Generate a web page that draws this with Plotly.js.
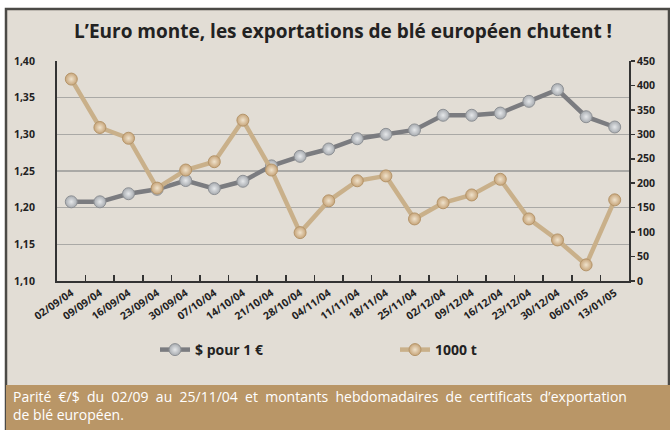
<!DOCTYPE html>
<html>
<head>
<meta charset="utf-8">
<script src="https://cdn.plot.ly/plotly-3.0.1.min.js"></script>
<style>
html,body{margin:0;padding:0;background:#fff;}
#chart{width:670px;height:430px;}
</style>
</head>
<body>
<div id="chart"></div>
<script>
const dates = ["02/09/04","09/09/04","16/09/04","23/09/04","30/09/04","07/10/04","14/10/04","21/10/04","28/10/04","04/11/04","11/11/04","18/11/04","25/11/04","02/12/04","09/12/04","16/12/04","23/12/04","30/12/04","06/01/05","13/01/05"];
const dollarPerEuro = [1.208,1.208,1.219,1.225,1.237,1.226,1.236,1.257,1.270,1.280,1.294,1.300,1.306,1.326,1.326,1.329,1.345,1.361,1.324,1.310];
const exportsKt = [413,314,292,190,227,244,329,227,99,164,205,215,127,160,176,208,127,84,33,166];
const leftTicks = [1.10,1.15,1.20,1.25,1.30,1.35,1.40];
const rightTicks = [0,50,100,150,200,250,300,350,400,450];
const captionLine1 = ["Parité","€/$","du","02/09","au","25/11/04","et","montants","hebdomadaires","de","certificats","d’exportation"];
const captionLine2 = "de blé européen.";

const L=57, R=629, T=61, B=281, W=670, H=430;
const pw=R-L, ph=B-T;
const px = x => (x-L)/pw;
const py = y => (B-y)/ph;

const font = "'Open Sans', 'DejaVu Sans', sans-serif";

const traces = [
  {
    x: dates, y: dollarPerEuro, name: "$ pour 1 €", type: "scatter", mode: "lines+markers",
    yaxis: "y", legend: "legend",
    line: {color: "#7b7c80", width: 4.5},
    marker: {size: 12, color: "#a7abb0", line: {color: "#8d9094", width: 1},
             gradient: {type: "radial", color: "#e6e8ea"}}
  },
  {
    x: dates, y: exportsKt, name: "1000 t", type: "scatter", mode: "lines+markers",
    yaxis: "y2", legend: "legend2",
    line: {color: "#c9b08a", width: 4.5},
    marker: {size: 12, color: "#c7a57a", line: {color: "#b5956a", width: 1},
             gradient: {type: "radial", color: "#efe2cc"}}
  }
];

const layout = {
  width: W, height: H,
  margin: {l: L, r: W-R, t: T, b: H-B, pad: 0},
  paper_bgcolor: "#ffffff",
  plot_bgcolor: "rgba(0,0,0,0)",
  separators: ", ",
  showlegend: true,
  font: {family: font, color: "#222"},
  title: {text: "<b>L’Euro monte, les exportations de blé européen chutent !</b>",
          font: {family: font, size: 19, color: "#222"},
          x: 0.512, xanchor: "center", y: 1-31/H, yanchor: "middle"},
  xaxis: {
    type: "category", tickson: "boundaries", ticks: "inside", ticklen: 6, tickwidth: 1.5,
    tickcolor: "#333", showline: true, linecolor: "#333", linewidth: 2,
    showgrid: false, tickangle: -35,
    tickfont: {family: font, size: 10.5, color: "#222", weight: "bold"},
    range: [-0.5, dates.length-0.5], fixedrange: true
  },
  yaxis: {
    range: [1.10, 1.40], tickvals: leftTicks, tickformat: ".2f",
    showline: true, linecolor: "#333", linewidth: 2,
    ticks: "", showgrid: true, gridcolor: "#aaa9a6", gridwidth: 1.5,
    zeroline: false, ticklabelstandoff: 18,
    tickfont: {family: font, size: 10.5, color: "#222", weight: "bold"}
  },
  yaxis2: {
    range: [0, 450], tickvals: rightTicks, overlaying: "y", side: "right",
    showline: true, linecolor: "#333", linewidth: 2,
    ticks: "outside", ticklen: 4, tickcolor: "#333", tickwidth: 1.5,
    showgrid: false, zeroline: false,
    tickfont: {family: font, size: 10.5, color: "#222", weight: "bold"}
  },
  legend: {x: px(155), y: py(350), xanchor: "left", yanchor: "middle", orientation: "h",
           bgcolor: "rgba(0,0,0,0)", font: {family: font, size: 14, color: "#222", weight: "bold"}},
  legend2: {x: px(395), y: py(350), xanchor: "left", yanchor: "middle", orientation: "h",
           bgcolor: "rgba(0,0,0,0)", font: {family: font, size: 14, color: "#222", weight: "bold"}},
  shapes: [
    {type: "rect", xref: "paper", yref: "paper", layer: "below",
     x0: px(6), x1: px(669), y0: py(435), y1: py(9),
     fillcolor: "#e2ddd5", line: {color: "#4b4a46", width: 2.5}},
    {type: "rect", xref: "paper", yref: "paper", layer: "below",
     x0: px(6), x1: px(671), y0: py(435), y1: py(385),
     fillcolor: "#b99667", line: {width: 0}}
  ],
  annotations: [
    {xref: "paper", yref: "paper", x: px(11), y: py(396), xanchor: "left", yanchor: "middle",
     showarrow: false, text: captionLine1.join("&nbsp; "),
     font: {family: font, size: 14, color: "#ffffff"}},
    {xref: "paper", yref: "paper", x: px(11), y: py(414), xanchor: "left", yanchor: "middle",
     showarrow: false, text: captionLine2,
     font: {family: font, size: 14, color: "#ffffff"}}
  ]
};

Plotly.newPlot("chart", traces, layout, {displayModeBar: false, staticPlot: true});
</script>
</body>
</html>
